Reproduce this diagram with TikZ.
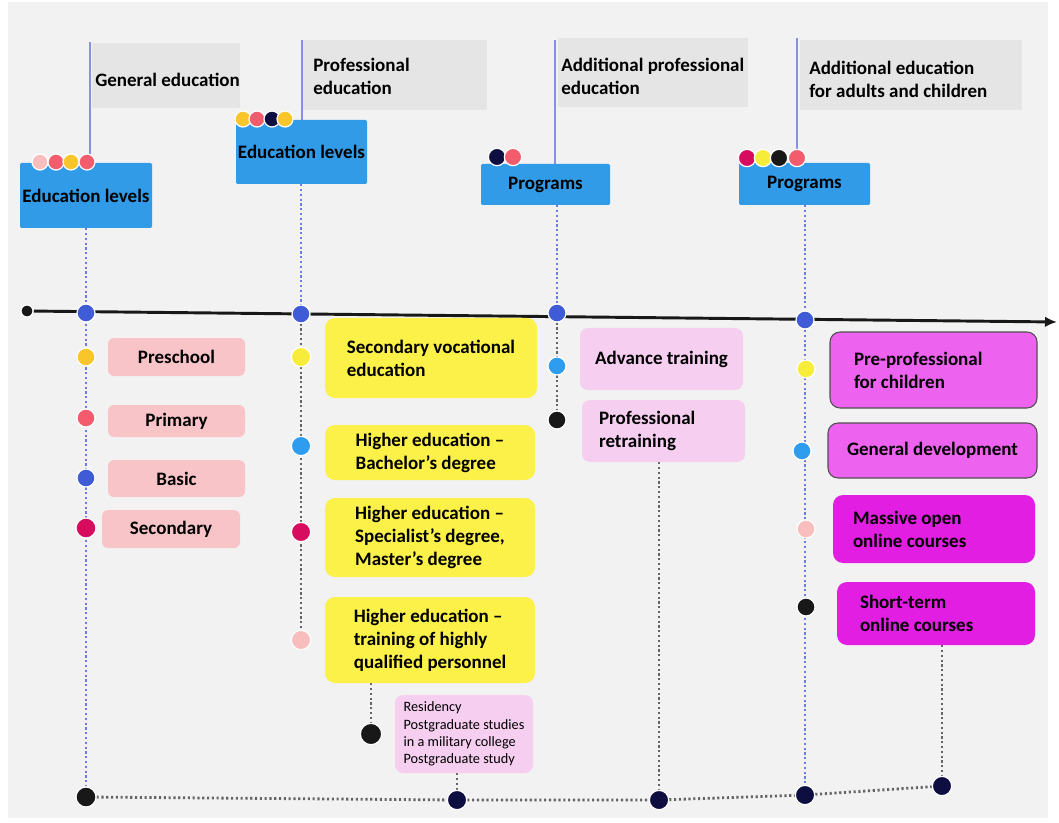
\documentclass[tikz,border=0pt]{standalone}
\usepackage{fontspec}
\setmainfont{Carlito}
\usetikzlibrary{arrows.meta}

\definecolor{pagegray}{RGB}{242,242,242}
\definecolor{headgray}{RGB}{229,229,229}
\definecolor{boxblue}{RGB}{49,155,232}
\definecolor{pinkfill}{RGB}{249,196,199}
\definecolor{yelfill}{RGB}{252,241,72}
\definecolor{lilfill}{RGB}{245,206,240}
\definecolor{maglight}{RGB}{238,98,240}
\definecolor{magdeep}{RGB}{226,30,226}
\definecolor{maggray}{RGB}{80,80,80}
\definecolor{stemblue}{RGB}{138,143,230}
\definecolor{dotblue}{RGB}{110,122,222}
\definecolor{dotgray}{RGB}{100,100,100}
\definecolor{dgold}{RGB}{248,197,43}
\definecolor{dred}{RGB}{242,92,108}
\definecolor{dlpink}{RGB}{248,189,189}
\definecolor{dcrimson}{RGB}{216,12,95}
\definecolor{dnavy}{RGB}{14,14,64}
\definecolor{dblue}{RGB}{63,91,214}
\definecolor{dsky}{RGB}{46,156,239}
\definecolor{dyellow}{RGB}{248,236,58}
\definecolor{dblack}{RGB}{24,24,24}

\pgfdeclarelayer{bg}
\pgfdeclarelayer{links}
\pgfsetlayers{bg,links,main}

\tikzset{every picture/.style={line width=0.75pt}}
\tikzset{
  box/.style={rounded corners=4.5pt, inner sep=0pt, align=flush left, font=\bfseries\fontsize{14.25}{17.25}\selectfont},
  header/.style={fill=headgray, inner sep=0pt},
  headtxt/.style={anchor=north west, inner sep=0pt, align=flush left, font=\bfseries\fontsize{14.25}{17.25}\selectfont},
  lvlbox/.style={box, fill=boxblue, rounded corners=1pt},
  pinkbox/.style={box, fill=pinkfill, minimum width=102.75pt},
  yelbox/.style={box, fill=yelfill, rounded corners=7.5pt, minimum width=157.5pt},
  lilbox/.style={box, fill=lilfill, rounded corners=6pt, minimum width=122.25pt},
  magbox/.style={box, fill=maglight, draw=maggray, line width=0.8pt, rounded corners=7.5pt},
  magdark/.style={box, fill=magdeep, rounded corners=7.5pt},
  ball/.style={circle, fill=#1, draw=white, line width=0.9pt, inner sep=0pt, minimum size=13.5pt},
  stem/.style={draw=stemblue, line width=1.1pt},
  bluedots/.style={draw=dotblue, line width=2.1pt, dash pattern=on 1.6pt off 2pt},
  graydots/.style={draw=dotgray, line width=2.1pt, dash pattern=on 1.6pt off 2pt},
  timeline/.style={draw=dblack, line width=2.2pt, -{Latex[length=9pt,width=8pt]}}
}

\begin{document}
\begin{tikzpicture}[x=0.75pt,y=0.75pt,yscale=-1,xscale=1]
\useasboundingbox (0,0) rectangle (1059,823);

%Background
\begin{pgfonlayer}{bg}
\fill[white] (0,0) rectangle (1059,823);
\fill[pagegray] (8,2) rectangle (1048,818);
\end{pgfonlayer}

%Header panels
\node[header, minimum width=111pt, minimum height=48.75pt] (hd1) at (166,75.5) {};
\node[header, minimum width=138pt, minimum height=52.5pt] (hd2) at (395,75) {};
\node[header, minimum width=142.5pt, minimum height=51.75pt] (hd3) at (653,72.5) {};
\node[header, minimum width=166.5pt, minimum height=52.5pt] (hd4) at (911,75) {};
% Text Node
\node[headtxt] (hd1txt) at (95,73) {General education};
\node[headtxt] (hd2txt) at (313,58) {Professional\\education};
\node[headtxt] (hd3txt) at (561,58) {Additional professional\\education};
\node[headtxt] (hd4txt) at (809,61) {Additional education\\for adults and children};

%Blue boxes
\node[lvlbox, minimum width=99pt, minimum height=48.75pt] (lv1) at (86,195.5) {Education levels};
\node[lvlbox, minimum width=98.25pt, minimum height=48pt] (lv2) at (301.5,152) {Education levels};
\node[lvlbox, minimum width=96.75pt, minimum height=30.75pt] (pr3) at (545.5,184.5) {Programs};
\node[lvlbox, minimum width=98.25pt, minimum height=31.5pt] (pr4) at (804.5,184) {Programs};

%Dot clusters on the boxes
\foreach \xx/\col [count=\i] in {40/dlpink,56/dred,71/dgold,87/dred}
  \node[ball=\col, minimum size=12pt] (ca\i) at (\xx,162) {};
\foreach \xx/\col [count=\i] in {243/dgold,257/dred,272/dnavy,285/dgold}
  \node[ball=\col, minimum size=12pt] (cb\i) at (\xx,119) {};
\foreach \xx/\col [count=\i] in {497/dnavy,513/dred}
  \node[ball=\col, minimum size=13pt] (cc\i) at (\xx,157) {};
\foreach \xx/\col [count=\i] in {747/dcrimson,763/dyellow,779/dblack,797/dred}
  \node[ball=\col, minimum size=13pt] (cd\i) at (\xx,158) {};

%Timeline dots
\node[ball=dblack, minimum size=9pt] (t0) at (27,311) {};
\coordinate (tend) at (1057,322);
\node[ball=dblue] (tl1) at (86,313) {};
\node[ball=dblue] (tl2) at (301,314) {};
\node[ball=dblue] (tl3) at (557,313) {};
\node[ball=dblue] (tl4) at (805,320) {};

%General education
\node[ball=dgold] (g1) at (86,357) {};
\node[ball=dred] (g2) at (86,418) {};
\node[ball=dblue] (g3) at (86,478) {};
\node[ball=dcrimson, minimum size=15pt] (g4) at (86,528) {};
\node[pinkbox, minimum height=28.5pt] (pre) at (176.5,357) {Preschool};
\node[pinkbox, minimum height=24pt] (pri) at (176.5,421) {Primary};
\node[pinkbox, minimum height=27.75pt] (bas) at (176.5,478.5) {Basic};
\node[pinkbox, minimum width=103.5pt, minimum height=28.5pt] (sec) at (171,529) {Secondary};

%Professional education
\node[ball=dyellow, minimum size=14.5pt] (p1) at (301,357) {};
\node[ball=dsky, minimum size=14.5pt] (p2) at (301,446) {};
\node[ball=dcrimson, minimum size=14.5pt] (p3) at (301,532) {};
\node[ball=dlpink, minimum size=14.5pt] (p4) at (301,640) {};
\node[yelbox, minimum width=159pt, minimum height=60pt] (y1) at (431,358) {Secondary vocational\\education};
\node[yelbox, minimum height=41.25pt] (y2) at (430,452.5) {Higher education –\\Bachelor’s degree};
\node[yelbox, minimum height=59.25pt] (y3) at (430,537.5) {Higher education –\\Specialist’s degree,\\Master’s degree};
\node[yelbox, minimum height=64.5pt] (y4) at (430,640) {Higher education –\\training of highly\\qualified personnel};
\node[ball=dblack, minimum size=16pt] (k2) at (371,734) {};
\node[lilbox, minimum width=103.5pt, minimum height=58.5pt, font=\fontsize{10.7}{13.1}\selectfont] (res) at (464,734) {Residency\\Postgraduate studies\\in a military college\\Postgraduate study};

%Additional professional education
\node[ball=dsky] (a1) at (557,366) {};
\node[ball=dblack] (a2) at (557,420) {};
\node[lilbox, minimum height=46.5pt] (adv) at (661.5,359) {Advance training};
\node[lilbox, text width=96.75pt, inner xsep=12.75pt, minimum height=46.5pt] (ret) at (663.5,431) {Professional\\retraining};

%Additional education for adults and children
\node[ball=dyellow] (m1) at (806,369) {};
\node[ball=dsky] (m2) at (802,451) {};
\node[ball=dlpink] (m3) at (806,529) {};
\node[ball=dblack] (m4) at (806,607) {};
\node[magbox, text width=119.25pt, inner xsep=18pt, minimum height=57pt] (pp) at (933.5,370) {Pre-professional\\for children};
\node[magbox, minimum width=156.75pt, minimum height=41.25pt] (gd) at (932.5,450.5) {General development};
\node[magdark, text width=121.5pt, inner xsep=15pt, minimum height=51pt] (mo) at (934,529) {Massive open\\online courses};
\node[magdark, text width=114pt, inner xsep=17.25pt, minimum height=47.25pt] (st) at (936,613.5) {Short-term\\online courses};

%Bottom dots
\node[ball=dblack, minimum size=15pt] (b1) at (86,797) {};
\node[ball=dnavy, minimum size=14.5pt] (b2) at (457,800) {};
\node[ball=dnavy, minimum size=14.5pt] (b3) at (659,800) {};
\node[ball=dnavy, minimum size=14.5pt] (b4) at (805,795) {};
\node[ball=dnavy, minimum size=14.5pt] (b5) at (942,786) {};

%Connectors
\coordinate (s1) at (90,42);
\coordinate (s2) at (302,40);
\coordinate (s3) at (555,40);
\coordinate (s4) at (797,38);
\begin{pgfonlayer}{links}
\draw[stem] (s1) -- (s1 |- lv1.north);
\draw[stem] (s2) -- (s2 |- lv2.north);
\draw[stem] (s3) -- (s3 |- pr3.north);
\draw[stem] (s4) -- (s4 |- pr4.north);
\draw[timeline] (t0) -- (tend);
\draw[bluedots] (lv1.south) -- (b1);
\draw[bluedots] (lv2.south -| tl2) -- (tl2);
\draw[graydots] (tl2) -- (p4);
\draw[graydots] (y4.south -| k2) -- (k2);
\draw[graydots] (res.south -| b2) -- (b2);
\draw[bluedots] (pr3.south -| tl3) -- (tl3);
\draw[graydots] (tl3) -- (a2);
\draw[graydots] (ret.south -| b3) -- (b3);
\draw[bluedots] (pr4.south -| tl4) -- (b4);
\draw[graydots] (st.south -| b5) -- (b5);
\draw[graydots] (b1) -- (b2) -- (b3) -- (b4) -- (b5);
\end{pgfonlayer}

\end{tikzpicture}
\end{document}
